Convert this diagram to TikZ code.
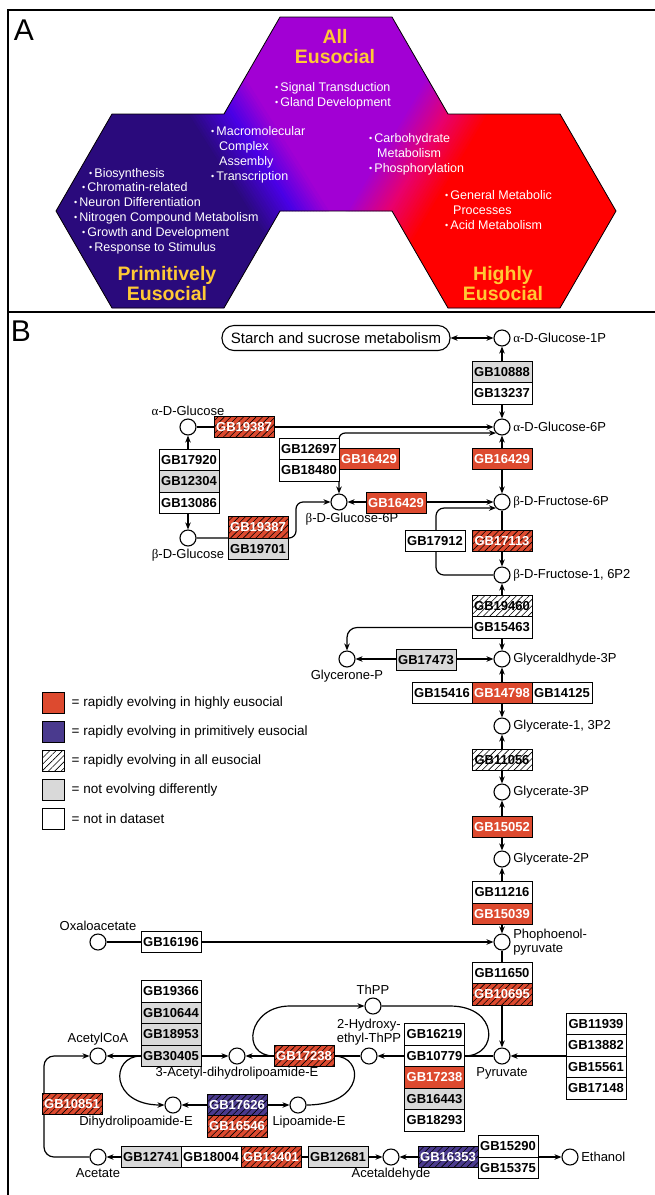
\documentclass[tikz,border=0pt]{standalone}
\usepackage{fontspec}
\setmainfont{Liberation Sans}
\newfontfamily\grkfont{Liberation Serif}
\usetikzlibrary{positioning, arrows.meta, backgrounds, patterns.meta}

\definecolor{hexindigo}{HTML}{2A0A7C}
\definecolor{hexblue}{HTML}{4A00E6}
\definecolor{hexpurple}{HTML}{A200D4}
\definecolor{hexmag}{HTML}{E8006E}
\definecolor{hexred}{HTML}{FF0000}
\definecolor{gold}{HTML}{FFC935}
\definecolor{hired}{HTML}{DD4A2F}
\definecolor{prblue}{HTML}{4A3A8E}
\definecolor{ndgray}{HTML}{D9D9D9}

\newcommand\gbfont{\fontsize{13}{13}\selectfont\bfseries}
\newcommand\labfont{\fontsize{13}{13.5}\selectfont}
\newcommand\afont{\fontsize{12.5}{15}\selectfont}
\newcommand\bul{\raisebox{0.06em}{\fontsize{9}{9}\selectfont\textbullet}\,}
\newcommand\al{{\grkfont α}}
\newcommand\be{{\grkfont β}}

\tikzset{
  met/.style={circle, draw, line width=1.1pt, fill=white, minimum size=16pt, inner sep=0pt},
  lab/.style={font=\labfont, inner sep=2.5pt},
  gb/.style={draw, line width=0.8pt, minimum width=60pt, minimum height=21.5pt, inner sep=0pt, outer sep=0pt, font=\gbfont},
  ni/.style={gb, fill=white},
  nd/.style={gb, fill=ndgray},
  hi/.style={gb, fill=hired, text=white},
  pr/.style={gb, fill=prblue, text=white},
  hatch/.style={postaction={pattern={Lines[angle=45, distance=4.5pt, line width=0.6pt]}}},
  conn/.style={line width=1.2pt},
  rxn/.style={conn, -{Stealth[length=7pt, width=5.5pt]}},
  rev/.style={conn, {Stealth[length=7pt, width=5.5pt]}-{Stealth[length=7pt, width=5.5pt]}},
  atext/.style={text=white, font=\afont, anchor=base west, inner sep=0pt},
  atitle/.style={text=gold, font=\fontsize{19.5}{20}\selectfont\bfseries, anchor=base, inner sep=0pt},
  legbox/.style={draw, line width=0.9pt, minimum width=22pt, minimum height=21pt, inner sep=0pt},
  legtext/.style={font=\fontsize{13.5}{14}\selectfont, anchor=west, inner sep=0pt},
}

\begin{document}
\begin{tikzpicture}[x=1pt, y=-1pt]
\useasboundingbox (0,0) rectangle (655,1195);

% panel A
\begin{scope}
  \clip (280,17) -- (392,17) -- (448,114) -- (560,114) -- (616,211) -- (560,308) -- (448,308) -- (392,211) -- (280,211) -- (224,308) -- (112,308) -- (56,211) -- (112,114) -- (224,114) -- cycle;
  \fill[hexpurple] (0,0) rectangle (655,330);
  \fill[hexindigo] (0,0) -- (115,0) -- (323,330) -- (0,330) -- cycle;
  \foreach \d in {-45,-42,...,-3}
    {\pgfmathsetmacro\p{(\d+45)/45*100}
     \fill[hexblue!\p!hexindigo] ({159+\d},0) -- ({163+\d},0) -- ({371+\d},330) -- ({367+\d},330) -- cycle;}
  \foreach \d in {0,3,...,33}
    {\pgfmathsetmacro\p{\d/36*100}
     \fill[hexpurple!\p!hexblue] ({159+\d},0) -- ({163+\d},0) -- ({371+\d},330) -- ({367+\d},330) -- cycle;}
  \foreach \d in {-42,-39,...,-3}
    {\pgfmathsetmacro\p{(\d+42)/42*100}
     \fill[hexmag!\p!hexpurple] ({513+\d},0) -- ({517+\d},0) -- ({321+\d},330) -- ({317+\d},330) -- cycle;}
  \foreach \d in {0,3,...,39}
    {\pgfmathsetmacro\p{\d/42*100}
     \fill[hexred!\p!hexmag] ({513+\d},0) -- ({517+\d},0) -- ({321+\d},330) -- ({317+\d},330) -- cycle;}
  \fill[hexred] (555,0) -- (700,0) -- (700,330) -- (359,330) -- cycle;
\end{scope}
\draw[line width=0.8pt] (280,17) -- (392,17) -- (448,114) -- (560,114) -- (616,211) -- (560,308) -- (448,308) -- (392,211) -- (280,211) -- (224,308) -- (112,308) -- (56,211) -- (112,114) -- (224,114) -- cycle;

\node[atitle] (tall1) at (335,43) {All};
\node[atitle] (tall2) at (335,63) {Eusocial};
\node[atitle] (tpri1) at (167,280) {Primitively};
\node[atitle] (tpri2) at (167,300) {Eusocial};
\node[atitle] (thig1) at (503,280) {Highly};
\node[atitle] (thig2) at (503,300) {Eusocial};

\node[atext] (a1) at (275,91.5) {\bul Signal Transduction};
\node[atext] (a2) at (275,106.5) {\bul Gland Development};
\node[atext] (a3) at (211,135.5) {\bul Macromolecular};
\node[atext] (a4) at (219,150.5) {Complex};
\node[atext] (a5) at (219,165) {Assembly};
\node[atext] (a6) at (211,180) {\bul Transcription};
\node[atext] (a7) at (369,142.5) {\bul Carbohydrate};
\node[atext] (a8) at (377,157.5) {Metabolism};
\node[atext] (a9) at (369,172.5) {\bul Phosphorylation};
\node[atext] (a10) at (445,199.5) {\bul General Metabolic};
\node[atext] (a11) at (453,214) {Processes};
\node[atext] (a12) at (445,229) {\bul Acid Metabolism};
\node[atext] (a13) at (89,177.5) {\bul Biosynthesis};
\node[atext] (a14) at (82,191.5) {\bul Chromatin-related};
\node[atext] (a15) at (74,206.5) {\bul Neuron Differentiation};
\node[atext] (a16) at (74,221.5) {\bul Nitrogen Compound Metabolism};
\node[atext] (a17) at (82,236.5) {\bul Growth and Development};
\node[atext] (a18) at (89,251.5) {\bul Response to Stimulus};

\draw[line width=1.8pt] (655,10) -- (8,10) -- (8,1195);
\draw[line width=1.8pt] (8,312) -- (655,312);
\node[font=\fontsize{30}{30}\selectfont, anchor=base, inner sep=0pt] (labA) at (24,40) {A};
\node[font=\fontsize{30}{30}\selectfont, anchor=base, inner sep=0pt] (labB) at (21,341) {B};

% panel B: metabolites
\node[draw, line width=1.1pt, rounded corners=12pt, minimum width=228pt, minimum height=25pt, inner sep=0pt, font=\fontsize{15}{15}\selectfont] (starch) at (336,338) {Starch and sucrose metabolism};
\node[met, label={[lab]right:\al-D-Glucose-1P}] (g1p) at (502,338) {};
\node[met, label={[lab]right:\al-D-Glucose-6P}] (g6p) at (502,427) {};
\node[met, label={[lab]above:\al-D-Glucose}] (aglc) at (188,427) {};
\node[met, label={[lab]below:\be-D-Glucose}] (bglc) at (188,538) {};
\node[met, label={[lab, xshift=13pt]below:\be-D-Glucose-6P}] (bg6p) at (339,502) {};
\node[met, label={[lab]right:\be-D-Fructose-6P}] (bf6p) at (502,502) {};
\node[met, label={[lab]right:\be-D-Fructose-1, 6P2}] (bf16p) at (502,575) {};
\node[met, label={[lab]right:Glyceraldhyde-3P}] (gap) at (502,659) {};
\node[met, label={[lab]below:Glycerone-P}] (dhap) at (347,659) {};
\node[met, label={[lab]right:Glycerate-1, 3P2}] (bpg) at (502,726) {};
\node[met, label={[lab]right:Glycerate-3P}] (g3p) at (502,792) {};
\node[met, label={[lab]right:Glycerate-2P}] (g2p) at (502,859) {};
\node[met, label={[lab, align=left]right:Phophoenol-\\pyruvate}] (pep) at (502,942) {};
\node[met, label={[lab]above:Oxaloacetate}] (oaa) at (98,942) {};
\node[met, label={[lab]below:Pyruvate}] (pyr) at (502,1056) {};
\node[met, label={[lab]above:ThPP}] (thpp) at (373,1006) {};
\node[met, label={[lab, align=center]above:2-Hydroxy-\\ethyl-ThPP}] (hthpp) at (369,1056) {};
\node[met, label={[lab]below:3-Acetyl-dihydrolipoamide-E}] (acdl) at (237,1056) {};
\node[met, label={[lab]above:AcetylCoA}] (acoa) at (98,1056) {};
\node[met, label={[lab, xshift=-37pt]below:Dihydrolipoamide-E}] (dhl) at (173,1105) {};
\node[met, label={[lab, xshift=11pt]below:Lipoamide-E}] (lipo) at (298,1105) {};
\node[met, label={[lab]below:Acetate}] (acet) at (98,1157) {};
\node[met, label={[lab]below:Acetaldehyde}] (acald) at (391,1157) {};
\node[met, label={[lab]right:Ethanol}] (eth) at (570,1157) {};

% panel B: genes
\node[nd] (gb10888) at (502,372) {GB10888};
\node[ni, below=0pt of gb10888] (gb13237) {GB13237};
\node[hi, hatch] (gb19387a) at (244,427) {GB19387};
\node[ni] (gb12697) at (309,449) {GB12697};
\node[ni, below=0pt of gb12697] (gb18480) {GB18480};
\node[hi] (gb16429a) at (369,459) {GB16429};
\node[hi] (gb16429b) at (502,459) {GB16429};
\node[hi] (gb16429c) at (396,503) {GB16429};
\node[ni] (gb17920) at (189,460) {GB17920};
\node[nd, below=0pt of gb17920] (gb12304) {GB12304};
\node[ni, below=0pt of gb12304] (gb13086) {GB13086};
\node[hi, hatch] (gb19387b) at (258,527.5) {GB19387};
\node[nd, below=0pt of gb19387b] (gb19701) {GB19701};
\node[ni] (gb17912) at (435,541) {GB17912};
\node[hi, hatch] (gb17113) at (502,541) {GB17113};
\node[ni, hatch] (gb19460) at (502,606) {GB19460};
\node[ni, below=0pt of gb19460] (gb15463) {GB15463};
\node[nd] (gb17473) at (426,660) {GB17473};
\node[hi] (gb14798) at (502,693) {GB14798};
\node[ni, left=0pt of gb14798] (gb15416) {GB15416};
\node[ni, right=0pt of gb14798] (gb14125) {GB14125};
\node[ni, hatch] (gb11056) at (502,760) {GB11056};
\node[hi] (gb15052) at (502,827) {GB15052};
\node[ni] (gb11216) at (502,892.5) {GB11216};
\node[hi, below=0pt of gb11216] (gb15039) {GB15039};
\node[ni] (gb16196) at (171,942) {GB16196};
\node[ni] (gb11650) at (502,973) {GB11650};
\node[hi, hatch, below=0pt of gb11650] (gb10695) {GB10695};
\node[ni] (gb11939) at (596,1023.75) {GB11939};
\node[ni, below=0pt of gb11939] (gb13882) {GB13882};
\node[ni, below=0pt of gb13882] (gb15561) {GB15561};
\node[ni, below=0pt of gb15561] (gb17148) {GB17148};
\node[ni] (gb16219) at (434.5,1034.5) {GB16219};
\node[ni, below=0pt of gb16219] (gb10779) {GB10779};
\node[hi, below=0pt of gb10779] (gb17238b) {GB17238};
\node[nd, below=0pt of gb17238b] (gb16443) {GB16443};
\node[ni, below=0pt of gb16443] (gb18293) {GB18293};
\node[hi, hatch] (gb17238a) at (304,1056) {GB17238};
\node[ni] (gb19366) at (171,991.5) {GB19366};
\node[nd, below=0pt of gb19366] (gb10644) {GB10644};
\node[nd, below=0pt of gb10644] (gb18953) {GB18953};
\node[nd, below=0pt of gb18953] (gb30405) {GB30405};
\node[hi, hatch] (gb10851) at (72,1104) {GB10851};
\node[pr, hatch] (gb17626) at (237,1105) {GB17626};
\node[hi, hatch, below=0pt of gb17626] (gb16546) {GB16546};
\node[nd] (gb12741) at (151,1157) {GB12741};
\node[ni, right=0pt of gb12741] (gb18004) {GB18004};
\node[hi, hatch, right=0pt of gb18004] (gb13401) {GB13401};
\node[nd] (gb12681) at (338,1157) {GB12681};
\node[pr, hatch] (gb16353) at (448,1157) {GB16353};
\node[ni] (gb15290) at (508,1146.25) {GB15290};
\node[ni, below=0pt of gb15290] (gb15375) {GB15375};

% reactions
\begin{scope}[on background layer]
\draw[rev] (starch) -- (g1p);
\draw[rev] (g1p) -- (g6p);
\draw[rxn] (aglc) -- (g6p);
\draw[rev, rounded corners=6pt] (bg6p) -- (bg6p |- g6p.south west) -- (g6p.south west);
\draw[rev] (g6p) -- (bf6p);
\draw[rev] (bg6p) -- (bf6p);
\draw[rev] (aglc) -- (bglc);
\draw[rxn, rounded corners=7pt] (bglc) -- (296,538) |- (bg6p);
\draw[rxn] (bf6p) -- (bf16p);
\draw[rxn, rounded corners=8pt] (bf16p) -| ([xshift=-60pt]bf6p.south west) -- (bf6p.south west);
\draw[rev] (bf16p) -- (gap);
\draw[rxn, rounded corners=10pt] (gb15463.west) -| (dhap);
\draw[rev] (dhap) -- (gap);
\draw[rev] (gap) -- (bpg);
\draw[rev] (bpg) -- (g3p);
\draw[rev] (g3p) -- (g2p);
\draw[rev] (g2p) -- (pep);
\draw[rxn] (oaa) -- (pep);
\draw[rxn] (pep) -- (pyr);
\draw[rxn] (gb13882.south west) -- (pyr);
\draw[rxn] (pyr) -- (hthpp);
\draw[rxn] (hthpp) -- (acdl);
\draw[rev] (acoa) -- (acdl);
\draw[rxn] (gb17238a.west) .. controls (240,1056) and (248,1006) .. (290,1006) -- (thpp);
\draw[conn] (thpp) -- (450,1006) .. controls (499,1006) and (499,1056) .. (gb10779.east);
\draw[conn] (gb17238a.east) .. controls (365,1056) and (365,1105) .. (lipo.east);
\draw[rxn] (gb30405.west) .. controls (110,1056) and (110,1105) .. (dhl.west);
\draw[rev] (dhl) -- (lipo);
\draw[rxn, rounded corners=10pt] (acet) -| (44,1056) -- (acoa);
\draw[rev] (acet) -- (acald);
\draw[rev] (acald) -- (eth);
\end{scope}

% legend
\node[legbox, fill=hired] (lg1) at (53,702.5) {};
\node[legtext, right=7pt of lg1] (lt1) {= rapidly evolving in highly eusocial};
\node[legbox, fill=prblue] (lg2) at (53,732) {};
\node[legtext, right=7pt of lg2] (lt2) {= rapidly evolving in primitively eusocial};
\node[legbox, fill=white, hatch] (lg3) at (53,760.5) {};
\node[legtext, right=7pt of lg3] (lt3) {= rapidly evolving in all eusocial};
\node[legbox, fill=ndgray] (lg4) at (53,789.5) {};
\node[legtext, right=7pt of lg4] (lt4) {= not evolving differently};
\node[legbox, fill=white] (lg5) at (53,818.5) {};
\node[legtext, right=7pt of lg5] (lt5) {= not in dataset};
\end{tikzpicture}
\end{document}
